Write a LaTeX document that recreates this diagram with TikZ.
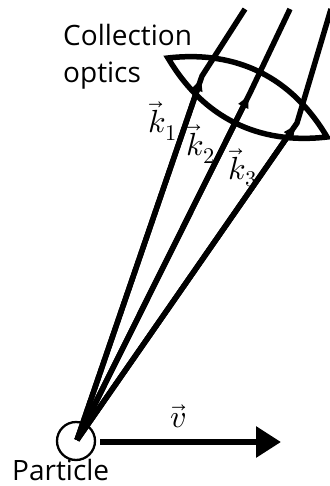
\documentclass[tikz,border=0pt]{standalone}
\usepackage{fontspec}
\usepackage{unicode-math}
\setmathfont{Latin Modern Math}
\setsansfont{Open Sans}
\usetikzlibrary{arrows.meta}
\tikzset{
  ray/.style={line width=5.5pt, line join=round},
  tip/.style={-{Latex[length=15pt, width=12pt]}},
  lbl/.style={font=\sffamily\fontsize{28}{37}\selectfont, inner sep=0pt, align=left},
  mth/.style={font=\fontsize{32}{34}\selectfont, inner sep=0pt},
}

\begin{document}
\begin{tikzpicture}[x=1pt, y=-1pt]
\useasboundingbox (0,0) rectangle (329,486);

% particle and origin of the rays
\node[circle, draw, line width=2.3pt, minimum size=38pt, inner sep=0pt] (part) at (76,441) {};
\coordinate (o) at (77,440);

% points where the rays meet the lens, and their far ends
\coordinate (b1) at (202,76);  \coordinate (t1) at (245,9);
\coordinate (b2) at (250,93);  \coordinate (t2) at (290,9);
\coordinate (b3) at (297,123); \coordinate (t3) at (331,9);

% ---------------- lens ----------------
\coordinate (lensL) at (168,58);
\coordinate (lensR) at (327,137);
\draw[ray, line join=miter] (lensL) to[bend left=33] (lensR) to[bend left=33] cycle;

% ---------------- rays ----------------
\foreach \i in {1,2,3} {
  \draw[ray] (o) -- (b\i) -- (t\i);
  \draw[ray, tip] (o) -- (b\i);
}

% velocity
\coordinate (vstart) at (100,442);
\coordinate (vend) at (281,442);
\draw[line width=6pt, -{Triangle[length=25pt, width=30pt]}] (vstart) -- (vend);

% labels
\node[lbl, anchor=north west] (optics) at (63,24) {Collection\\optics};
\node[lbl, anchor=north west] (plabel) at (12,459) {Particle};
\node[mth] (k1) at (163,121) {$\vec{k}_1$};
\node[mth] (k2) at (201,144) {$\vec{k}_2$};
\node[mth] (k3) at (243,168) {$\vec{k}_3$};
\node[mth] (v) at (178,416) {$\vec{v}$};
\end{tikzpicture}
\end{document}
